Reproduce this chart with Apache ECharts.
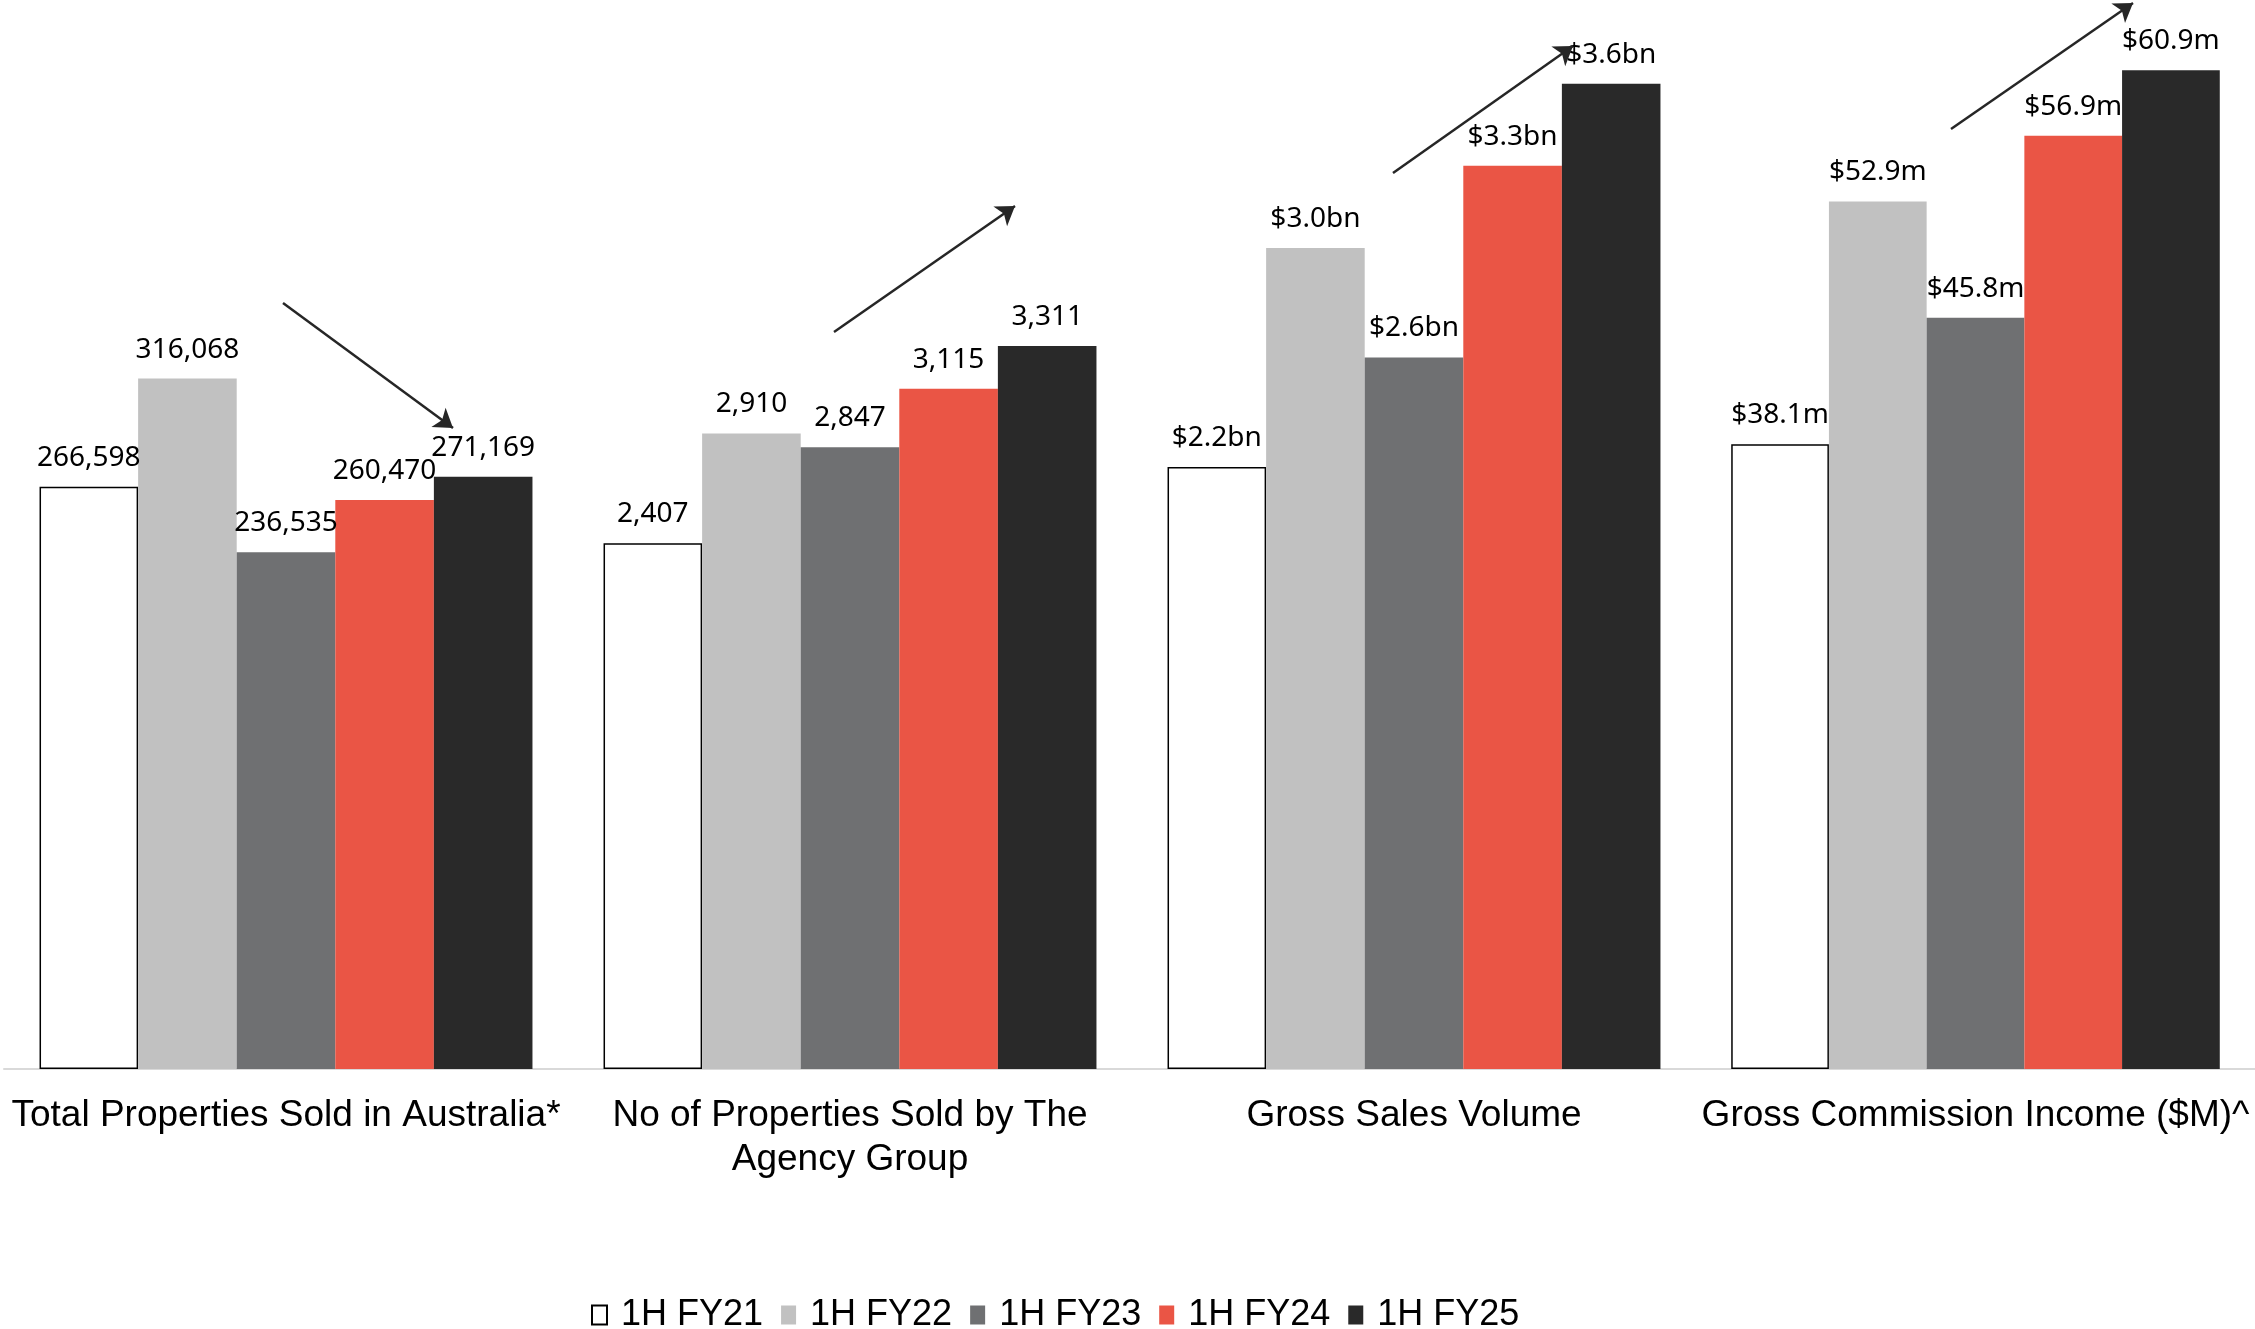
<!DOCTYPE html>
<html>
<head>
<meta charset="utf-8">
<script src="https://cdn.jsdelivr.net/npm/echarts@6/dist/echarts.min.js"></script>
<style>
  html, body { margin: 0; padding: 0; background: #ffffff; }
  #chart { width: 2255px; height: 1329px; }
</style>
</head>
<body>
<div id="chart"></div>
<script>
// Half-year periods (one bar colour each)
const periods = ['1H FY21', '1H FY22', '1H FY23', '1H FY24', '1H FY25'];

// Metric groups along the bottom
const categories = [
  'Total Properties Sold in Australia*',
  'No of Properties Sold by The\nAgency Group',
  'Gross Sales Volume',
  'Gross Commission Income ($M)^'
];

// Values per metric, in period order
const totalPropertiesSold = [266598, 316068, 236535, 260470, 271169];
const agencyPropertiesSold = [2407, 2910, 2847, 3115, 3311];
const grossSalesVolumeBn = [2.2, 3.0, 2.6, 3.3, 3.6];
const grossCommissionM = [38.1, 52.9, 45.8, 56.9, 60.9];

const metrics = [totalPropertiesSold, agencyPropertiesSold, grossSalesVolumeBn, grossCommissionM];

// Each metric has its own vertical scale
const axisMax = [489400, 4895, 3.906, 65.18];

const labelFormat = [
  v => v.toLocaleString('en-US'),
  v => v.toLocaleString('en-US'),
  v => '$' + v.toFixed(1) + 'bn',
  v => '$' + v.toFixed(1) + 'm'
];

const periodColors = ['#ffffff', '#c1c1c1', '#6f7072', '#ea5545', '#292929'];

// Layout
const CHART_W = 2255, CHART_H = 1329;
const PLOT_LEFT = 4, GROUP_W = 564, BASE_Y = 1069;

// Trend arrows drawn over each group (pixel start/end)
const trendArrows = [
  [283, 303, 453, 428],
  [834, 332, 1015, 206],
  [1393, 173, 1573, 46],
  [1951, 129, 2133, 3]
];

const grids = [], xAxes = [], yAxes = [], series = [];

categories.forEach((cat, g) => {
  grids.push({
    left: PLOT_LEFT + g * GROUP_W,
    width: GROUP_W,
    top: 0,
    height: BASE_Y,
    containLabel: false
  });
  xAxes.push({
    type: 'category',
    gridIndex: g,
    data: [cat],
    axisTick: { show: false },
    axisLine: { show: true, lineStyle: { color: '#d9d9d9', width: 2 } },
    axisLabel: {
      color: '#000000',
      fontFamily: 'Liberation Sans',
      fontSize: 37,
      lineHeight: 44,
      margin: 25,
      interval: 0
    },
    splitLine: { show: false }
  });
  yAxes.push({
    type: 'value',
    gridIndex: g,
    min: 0,
    max: axisMax[g],
    show: false,
    splitLine: { show: false }
  });

  periods.forEach((p, i) => {
    const s = {
      type: 'bar',
      name: p,
      xAxisIndex: g,
      yAxisIndex: g,
      data: [metrics[g][i]],
      barGap: '0%',
      barCategoryGap: '12.6%',
      itemStyle: {
        color: periodColors[i],
        borderColor: i === 0 ? '#000000' : periodColors[i],
        borderWidth: i === 0 ? 1.5 : 0
      },
      label: {
        show: true,
        position: 'top',
        distance: 15,
        formatter: params => labelFormat[g](params.value),
        fontFamily: 'Noto Sans',
        fontSize: 28,
        color: '#000000'
      },
      emphasis: { disabled: true },
      animation: false
    };
    if (i === periods.length - 1) {
      const a = trendArrows[g];
      s.markLine = {
        silent: true,
        symbol: ['none', 'arrow'],
        symbolSize: 18,
        label: { show: false },
        lineStyle: { color: '#262626', width: 2.5, type: 'solid' },
        emphasis: { disabled: true },
        animation: false,
        data: [[{ x: a[0], y: a[1] }, { x: a[2], y: a[3] }]]
      };
    }
    series.push(s);
  });
});

const chart = echarts.init(document.getElementById('chart'), null, { width: CHART_W, height: CHART_H });
chart.setOption({
  animation: false,
  backgroundColor: '#ffffff',
  textStyle: { fontFamily: 'Liberation Sans' },
  legend: {
    data: periods,
    left: 591,
    top: 1297,
    padding: 0,
    icon: 'rect',
    itemWidth: 15,
    itemHeight: 19,
    itemGap: 18,
    selectedMode: true,
    textStyle: {
      fontFamily: 'Liberation Sans',
      fontSize: 36,
      color: '#000000',
      padding: [0, 0, 0, 9]
    }
  },
  grid: grids,
  xAxis: xAxes,
  yAxis: yAxes,
  series: series
});
</script>
</body>
</html>
